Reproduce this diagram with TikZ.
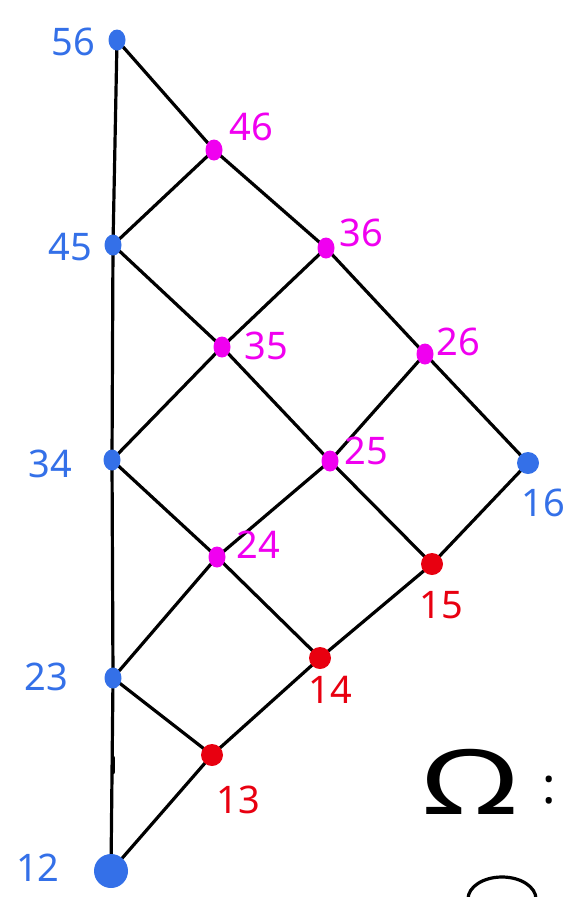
\documentclass[tikz,border=0pt]{standalone}
\usepackage{fontspec}
\setmainfont{Noto Sans}
\usetikzlibrary{shapes.geometric,backgrounds}
\definecolor{bl}{RGB}{52,112,232}
\definecolor{mg}{RGB}{240,0,240}
\definecolor{rd}{RGB}{232,0,16}
\begin{document}
\begin{tikzpicture}[x=1pt,y=-1pt,
  dot/.style={ellipse,inner sep=0pt,minimum width=17pt,minimum height=21pt},
  bdot/.style={dot,fill=bl},
  mdot/.style={dot,fill=mg},
  rdot/.style={dot,fill=rd,minimum width=22pt,minimum height=22pt},
  lab/.style={font=\fontsize{38}{38}\selectfont,inner sep=1pt},
  edge/.style={line width=3.2pt,line cap=round,line join=round,black}]
\useasboundingbox (0,0) rectangle (566,897);
% nodes
\node[bdot] (n56) at (117,40) {};
\node[bdot] (n45) at (113,245) {};
\node[bdot] (n34) at (112,460) {};
\node[bdot] (n23) at (113,678) {};
\node[bdot,minimum width=34pt,minimum height=34pt] (n12) at (111,871) {};
\node[mdot] (n46) at (214,150) {};
\node[mdot] (n35) at (222,347) {};
\node[mdot] (n24) at (217,557) {};
\node[rdot] (n13) at (212,755) {};
\node[mdot] (n36) at (326,248) {};
\node[mdot] (n25) at (330,461) {};
\node[rdot] (n14) at (320,658) {};
\node[mdot] (n26) at (425,354) {};
\node[rdot] (n15) at (432,564) {};
\node[bdot,minimum width=22pt,minimum height=22pt] (n16) at (528,463) {};
% edges
\begin{scope}[on background layer]
\draw[edge] (n56.center) -- (n45.center) -- (n34.center) -- (n23.center) -- (n12.center);
\draw[edge] (n56.center) -- (n46.center) -- (n36.center) -- (n26.center) -- (n16.center);
\draw[edge] (n45.center) -- (n35.center) -- (n25.center) -- (n15.center);
\draw[edge] (n34.center) -- (n24.center) -- (n14.center);
\draw[edge] (n23.center) -- (n13.center);
\draw[edge] (n12.center) -- (n13.center) -- (n14.center) -- (n15.center) -- (n16.center);
\draw[edge] (n23.center) -- (n24.center) -- (n25.center) -- (n26.center);
\draw[edge] (n34.center) -- (n35.center) -- (n36.center);
\draw[edge] (n45.center) -- (n46.center);
\end{scope}
\coordinate (tk1) at (113,758);
\coordinate (tk2) at (113,772);
\draw[line width=4.5pt,line cap=round] (tk1) -- (tk2);
% labels
\node[lab,text=bl] (l56) at (73,42) {56};
\node[lab,text=bl] (l45) at (70,247) {45};
\node[lab,text=bl] (l34) at (50,464) {34};
\node[lab,text=bl] (l23) at (46,677) {23};
\node[lab,text=bl] (l12) at (38,868) {12};
\node[lab,text=bl] (l16) at (543,503) {16};
\node[lab,text=mg] (l46) at (251,127) {46};
\node[lab,text=mg] (l36) at (361,233) {36};
\node[lab,text=mg] (l35) at (266,346) {35};
\node[lab,text=mg] (l26) at (458,342) {26};
\node[lab,text=mg] (l25) at (366,451) {25};
\node[lab,text=mg] (l24) at (258,545) {24};
\node[lab,text=rd] (l15) at (441,605) {15};
\node[lab,text=rd] (l14) at (330,690) {14};
\node[lab,text=rd] (l13) at (238,800) {13};
% Omega
\node[font=\fontsize{90}{90}\selectfont,xscale=1.45] (om) at (470,782) {Ω};
\node[font=\fontsize{50}{50}\selectfont] (col) at (549,790) {:};
\draw[line width=3.2pt] (468,899) arc (180:360:34 and 22);
\end{tikzpicture}
\end{document}
